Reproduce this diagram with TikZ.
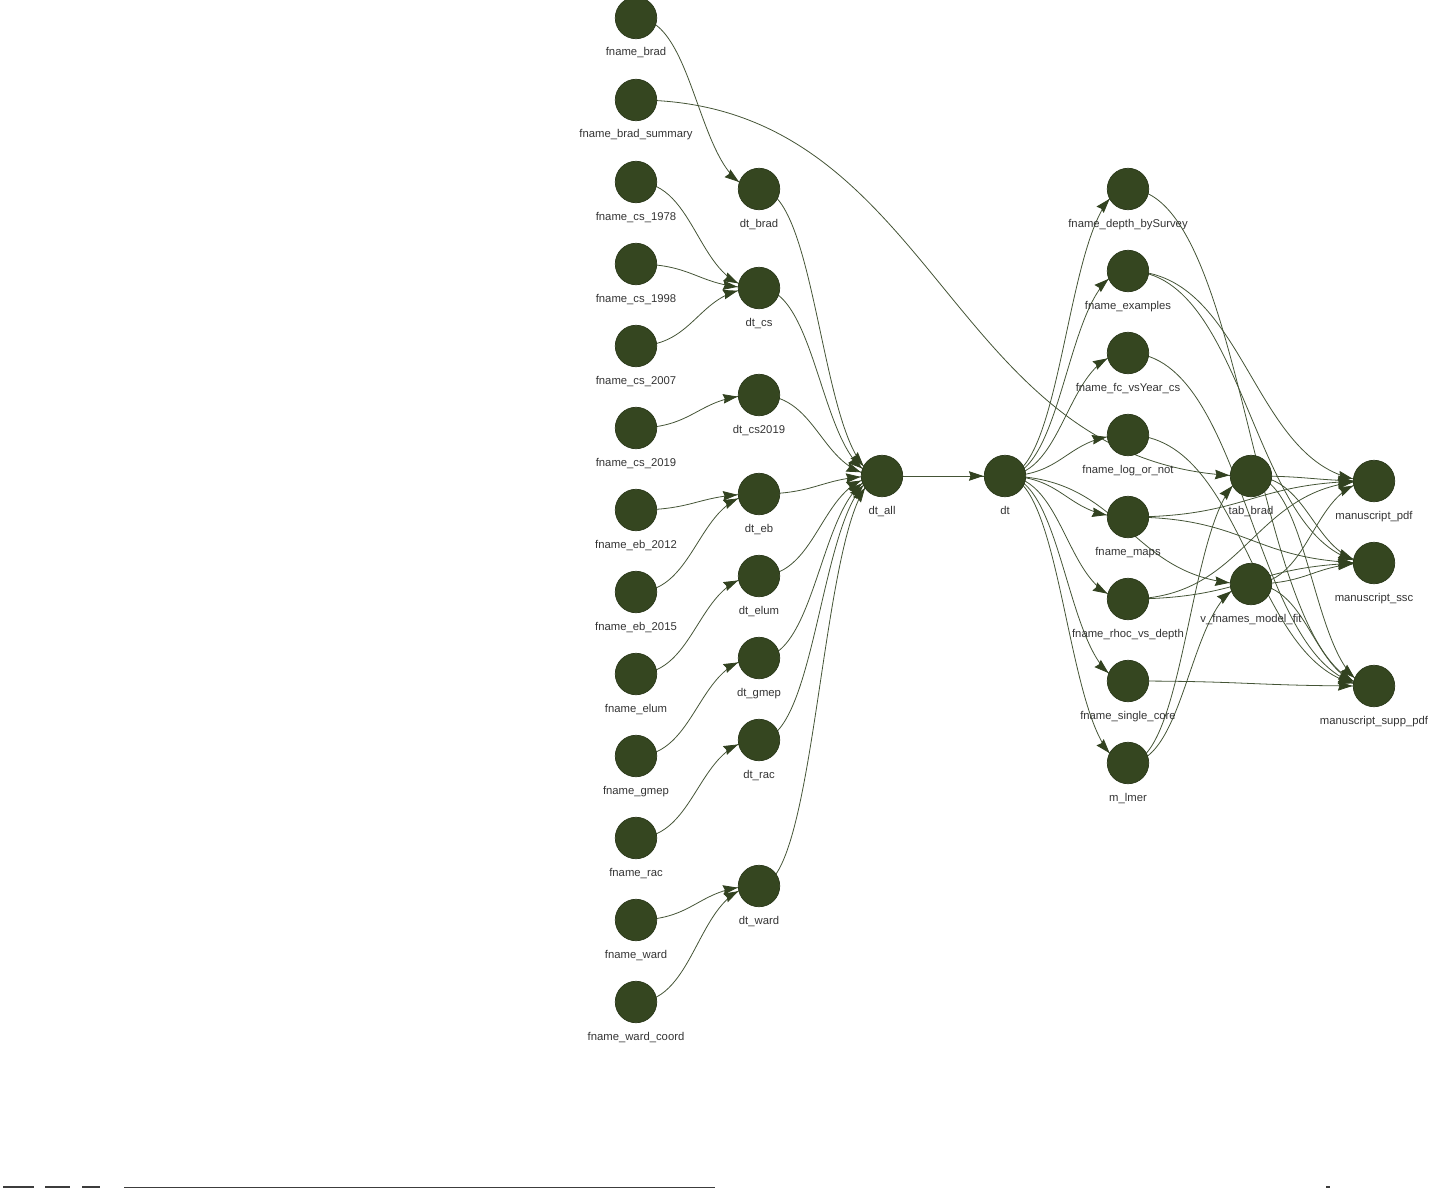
\documentclass[tikz,border=0pt]{standalone}
\usepackage{fontspec}
\setmainfont{Liberation Sans}
\usetikzlibrary{arrows.meta,decorations.markings,calc,backgrounds}
\definecolor{nodefill}{RGB}{53,70,32}
\definecolor{edgecol}{RGB}{68,84,54}
\definecolor{arrcol}{RGB}{50,66,32}
\definecolor{txt}{RGB}{52,52,52}
\definecolor{junk}{RGB}{60,60,60}
\tikzset{
  gdot/.style={circle, fill=nodefill, draw=nodefill!80!black, line width=0.7pt, minimum size=41.5pt, inner sep=0pt},
  lbl/.style={text=txt, font=\fontsize{11.3}{13}\selectfont, anchor=base, inner sep=0pt},
  edge/.style={draw=edgecol, line width=0.8pt, postaction={decorate},
    decoration={markings, mark=at position -21.5pt with {\arrow[arrcol]{Stealth[length=14.5pt,width=9.5pt,inset=1.5pt]}}}}
}
\newcommand\gn[4]{\node[gdot] (#1) at (#2,#3) {}; \node[lbl] (#1l) at (#2,#3+38) {#4};}
\newcommand\edg[2]{\draw[edge] let \p1=(#1.center), \p2=(#2.center) in (#1.center) .. controls ({(\x1+\x2)/2},\y1) and ({(\x1+\x2)/2},\y2) .. (#2.center);}
\begin{document}
\begin{tikzpicture}[x=1pt,y=-1pt]
\useasboundingbox (0,0) rectangle (1439,1188);
% column 1
\gn{fbrad}{636}{18}{fname\_brad}
\gn{fbrads}{636}{100}{fname\_brad\_summary}
\gn{fcsa}{636}{182}{fname\_cs\_1978}
\gn{fcsb}{636}{264}{fname\_cs\_1998}
\gn{fcsc}{636}{346}{fname\_cs\_2007}
\gn{fcsd}{636}{428}{fname\_cs\_2019}
\gn{feba}{636}{510}{fname\_eb\_2012}
\gn{febb}{636}{592}{fname\_eb\_2015}
\gn{felum}{636}{674}{fname\_elum}
\gn{fgmep}{636}{756}{fname\_gmep}
\gn{frac}{636}{838}{fname\_rac}
\gn{fward}{636}{920}{fname\_ward}
\gn{fwardc}{636}{1002}{fname\_ward\_coord}
% column 2
\gn{dtbrad}{759}{189}{dt\_brad}
\gn{dtcs}{759}{288}{dt\_cs}
\gn{dtcsd}{759}{395}{dt\_cs2019}
\gn{dteb}{759}{494}{dt\_eb}
\gn{dtelum}{759}{576}{dt\_elum}
\gn{dtgmep}{759}{658}{dt\_gmep}
\gn{dtrac}{759}{740}{dt\_rac}
\gn{dtward}{759}{886}{dt\_ward}
% middle
\gn{dtall}{882}{476}{dt\_all}
\gn{dt}{1005}{476}{dt}
% column 5
\gn{fdepth}{1128}{189}{fname\_depth\_bySurvey}
\gn{fexam}{1128}{271}{fname\_examples}
\gn{ffc}{1128}{353}{fname\_fc\_vsYear\_cs}
\gn{flog}{1128}{435}{fname\_log\_or\_not}
\gn{fmaps}{1128}{517}{fname\_maps}
\gn{frhoc}{1128}{599}{fname\_rhoc\_vs\_depth}
\gn{fsingle}{1128}{681}{fname\_single\_core}
\gn{mlmer}{1128}{763}{m\_lmer}
% column 6
\gn{tabbrad}{1251}{476}{tab\_brad}
\gn{vfn}{1251}{584}{v\_fnames\_model\_fit}
% column 7
\gn{mpdf}{1374}{481}{manuscript\_pdf}
\gn{mssc}{1374}{563}{manuscript\_ssc}
\gn{msupp}{1374}{686}{manuscript\_supp\_pdf}
\begin{pgfonlayer}{background}
\edg{fbrad}{dtbrad}
\edg{fbrads}{tabbrad}
\edg{fcsa}{dtcs}
\edg{fcsb}{dtcs}
\edg{fcsc}{dtcs}
\edg{fcsd}{dtcsd}
\edg{feba}{dteb}
\edg{febb}{dteb}
\edg{felum}{dtelum}
\edg{fgmep}{dtgmep}
\edg{frac}{dtrac}
\edg{fward}{dtward}
\edg{fwardc}{dtward}
\edg{dtbrad}{dtall}
\edg{dtcs}{dtall}
\edg{dtcsd}{dtall}
\edg{dteb}{dtall}
\edg{dtelum}{dtall}
\edg{dtgmep}{dtall}
\edg{dtrac}{dtall}
\edg{dtward}{dtall}
\edg{dtall}{dt}
\edg{dt}{fdepth}
\edg{dt}{fexam}
\edg{dt}{ffc}
\edg{dt}{flog}
\edg{dt}{fmaps}
\edg{dt}{frhoc}
\edg{dt}{fsingle}
\edg{dt}{mlmer}
\edg{dt}{vfn}
\edg{fdepth}{msupp}
\edg{fexam}{mpdf}
\edg{fexam}{mssc}
\edg{ffc}{msupp}
\edg{flog}{msupp}
\edg{fmaps}{mpdf}
\edg{fmaps}{mssc}
\edg{frhoc}{mpdf}
\edg{frhoc}{mssc}
\edg{fsingle}{msupp}
\edg{mlmer}{tabbrad}
\edg{mlmer}{vfn}
\edg{tabbrad}{mpdf}
\edg{tabbrad}{mssc}
\edg{tabbrad}{msupp}
\edg{vfn}{mpdf}
\edg{vfn}{mssc}
\edg{vfn}{msupp}
\end{pgfonlayer}
% cut-off marks at the bottom edge
\fill[junk] (3,1186) rectangle (34,1188);
\fill[junk] (45,1186) rectangle (70,1188);
\fill[junk] (82,1186) rectangle (100,1188);
\fill[junk] (124,1186.5) rectangle (715,1188);
\fill[junk] (1326,1186) rectangle (1330,1188);
\end{tikzpicture}
\end{document}
